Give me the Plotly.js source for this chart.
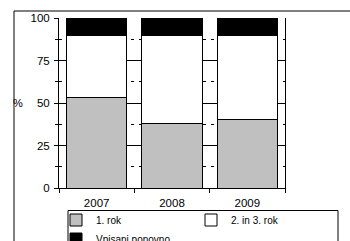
<!DOCTYPE html>
<html><head><meta charset="utf-8">
<script src="https://cdn.plot.ly/plotly-3.0.1.min.js"></script>
<style>html,body{margin:0;padding:0;background:#fff}#chart{width:350px;height:241px}</style>
</head><body><div id="chart"></div>
<script>
const years = ['2007', '2008', '2009'];
const firstYear = [53, 38, 40.5];
const secondThird = [36.5, 51.5, 49];
const repeated = [10.5, 10.5, 10.5];
const seriesNames = ['1. rok', '2. in 3. rok', 'Vpisani ponovno'];
const seriesColors = ['#c0c0c0', '#ffffff', '#000000'];
const yTicks = [0, 25, 50, 75, 100];
const yTitle = '%';

const FONT = 'Liberation Sans, Arial, sans-serif';
const series = [firstYear, secondThird, repeated];
const traces = series.map((vals, i) => ({
  type: 'bar', x: years, y: vals, name: seriesNames[i],
  marker: {color: seriesColors[i], line: {color: '#000', width: 1}},
  hoverinfo: 'skip'
}));

const W = 226, H = 170, L = 59, T = 18;
const px = v => (v - L) / W;
const py = v => (T + H - v) / H;

const layout = {
  width: 350, height: 241,
  margin: {l: L, r: 350 - L - W, t: T, b: 241 - T - H, autoexpand: false},
  paper_bgcolor: '#fff', plot_bgcolor: '#fff',
  font: {family: FONT, size: 11, color: '#000'},
  barmode: 'stack', bargap: 0.2,
  showlegend: true,
  legend: {
    orientation: 'h', x: px(56), xanchor: 'left', y: py(205.5), yanchor: 'top',
    bgcolor: 'rgba(0,0,0,0)', borderwidth: 0,
    entrywidth: 90, entrywidthmode: 'pixels',
    traceorder: 'normal', font: {family: FONT, size: 10, color: '#000'}
  },
  xaxis: {
    type: 'category', showline: true, linecolor: '#000', linewidth: 1,
    ticks: 'outside', ticklen: 4, tickcolor: '#000', tickson: 'boundaries',
    ticklabelstandoff: 4,
    showgrid: false, zeroline: false, fixedrange: true,
    tickfont: {family: FONT, size: 11.5, color: '#000'}
  },
  yaxis: {
    range: [0, 100], tickvals: yTicks, ticktext: yTicks.map(String),
    showline: true, mirror: true, linecolor: '#000', linewidth: 1,
    ticks: 'outside', ticklen: 4, tickcolor: '#000', ticklabelstandoff: 2,
    showgrid: true, gridcolor: '#000', gridwidth: 1, zeroline: false,
    minor: {dtick: 12.5, showgrid: true, gridcolor: '#000', griddash: '3px,5px', ticks: 'outside', ticklen: 3, tickcolor: '#000'},
    fixedrange: true,
    tickfont: {family: FONT, size: 11.5, color: '#000'}
  },
  annotations: [{
    text: yTitle, xref: 'paper', yref: 'y', x: px(18), y: 50,
    xanchor: 'center', yanchor: 'middle', showarrow: false,
    font: {family: FONT, size: 11, color: '#000'}
  }],
  shapes: [
    {type: 'rect', xref: 'paper', yref: 'paper', x0: px(14), x1: 1.6, y0: -0.6, y1: py(11),
     line: {color: '#000', width: 1}, fillcolor: 'rgba(0,0,0,0)', layer: 'below'},
    {type: 'rect', xref: 'paper', yref: 'paper', x0: px(68), x1: px(338), y0: -0.6, y1: py(210.5),
     line: {color: '#000', width: 1}, fillcolor: 'rgba(0,0,0,0)', layer: 'above'}
  ]
};

Plotly.newPlot('chart', traces, layout, {displayModeBar: false, staticPlot: true});
</script></body></html>
